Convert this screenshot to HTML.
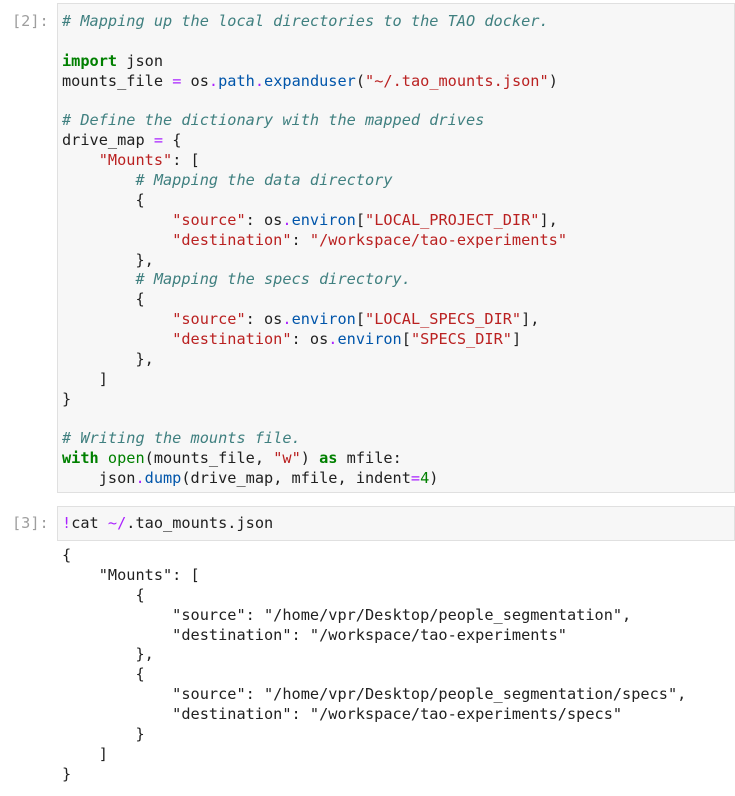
<!DOCTYPE html>
<html><head><meta charset="utf-8"><style>
body{margin:0;background:#fff;width:735px;height:796px;overflow:hidden;position:relative;font-family:"DejaVu Sans Mono","Liberation Mono",monospace;}
.box{position:absolute;left:57px;right:0;background:#f7f7f7;border:1px solid #e0e0e0;}
pre{margin:0;position:absolute;left:62px;font-family:"DejaVu Sans Mono",monospace;font-size:15.25px;line-height:19.87px;color:#212121;white-space:pre;}
.p{position:absolute;font-size:15.25px;color:#9e9e9e;left:12px;font-family:"DejaVu Sans Mono",monospace;}
.c{color:#408080;font-style:italic}.k{color:#008000;font-weight:bold}.s{color:#BA2121}.o{color:#AA22FF}.a{color:#0055AA}.b{color:#008000}.n{color:#008000}
</style></head><body>
<div class="box" style="top:3px;height:488px"></div>
<div class="p" style="top:12px">[2]:</div>
<pre style="top:12px"><span class="c"># Mapping up the local directories to the TAO docker.</span>

<span class="k">import</span> json
mounts_file <span class="o">=</span> os<span class="o">.</span><span class="a">path</span><span class="o">.</span><span class="a">expanduser</span>(<span class="s">"~/.tao_mounts.json"</span>)

<span class="c"># Define the dictionary with the mapped drives</span>
drive_map <span class="o">=</span> {
    <span class="s">"Mounts"</span>: [
        <span class="c"># Mapping the data directory</span>
        {
            <span class="s">"source"</span>: os<span class="o">.</span><span class="a">environ</span>[<span class="s">"LOCAL_PROJECT_DIR"</span>],
            <span class="s">"destination"</span>: <span class="s">"/workspace/tao-experiments"</span>
        },
        <span class="c"># Mapping the specs directory.</span>
        {
            <span class="s">"source"</span>: os<span class="o">.</span><span class="a">environ</span>[<span class="s">"LOCAL_SPECS_DIR"</span>],
            <span class="s">"destination"</span>: os<span class="o">.</span><span class="a">environ</span>[<span class="s">"SPECS_DIR"</span>]
        },
    ]
}

<span class="c"># Writing the mounts file.</span>
<span class="k">with</span> <span class="b">open</span>(mounts_file, <span class="s">"w"</span>) <span class="k">as</span> mfile:
    json<span class="o">.</span><span class="a">dump</span>(drive_map, mfile, indent<span class="o">=</span><span class="n">4</span>)</pre>
<div class="box" style="top:506px;height:33px"></div>
<div class="p" style="top:514px">[3]:</div>
<pre style="top:514px"><span class="o">!</span>cat <span class="o">~/</span>.tao_mounts.json</pre>
<pre style="top:546px">{
    "Mounts": [
        {
            "source": "/home/vpr/Desktop/people_segmentation",
            "destination": "/workspace/tao-experiments"
        },
        {
            "source": "/home/vpr/Desktop/people_segmentation/specs",
            "destination": "/workspace/tao-experiments/specs"
        }
    ]
}</pre>
</body></html>
